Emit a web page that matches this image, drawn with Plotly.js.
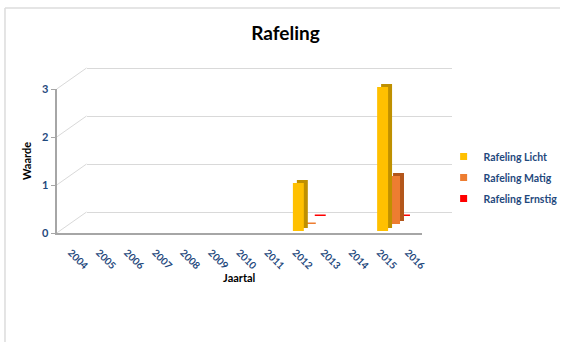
<!DOCTYPE html>
<html>
<head>
<meta charset="utf-8">
<script src="https://cdn.plot.ly/plotly-3.0.1.min.js"></script>
<style>
  html, body { margin: 0; padding: 0; background: #ffffff; }
  #chart { width: 563px; height: 342px; }
</style>
</head>
<body>
<div id="chart"></div>
<script>
// Jaartallen op de categorie-as
const years = ['2004','2005','2006','2007','2008','2009','2010','2011','2012','2013','2014','2015','2016'];

// Waarden per reeks (null = geen meting in dat jaar)
const rafelingLicht   = [null, null, null, null, null, null, null, null, 1, null, null, 3, null];
const rafelingMatig   = [null, null, null, null, null, null, null, null, 0, null, null, 1, null];
const rafelingErnstig = [null, null, null, null, null, null, null, null, 0, null, null, 0, null];

const seriesNames = ['Rafeling Licht', 'Rafeling Matig', 'Rafeling Ernstig'];
const yTicks = [0, 1, 2, 3];

// ---- geometry of the pseudo-3D box (pixels) ----
const W = 563, H = 342;
const FONT = 'Lato, "Open Sans", sans-serif';
const BLUE = '#1F497D';
const box = { left: 57, right: 424, bottom: 233, top: 89 };   // front frame
const wall = { dx: 30, dy: -21 };                              // back wall offset
const side = { dx: 4, dy: -3 };                                // column thickness
const fx = p => p / W;
const fy = p => 1 - p / H;
function domains(ox, oy, grow) {
  const g = grow || 0;
  return {
    x: [fx(box.left + ox), fx(box.right + ox)],
    y: [fy(box.bottom + oy + g), fy(box.top + oy - g)]
  };
}
const yMax = yTicks[yTicks.length - 1];
const pxPerUnit = (box.bottom - box.top) / yMax;
const yPix = v => box.bottom - v * pxPerUnit;

// series drawn back-to-front: deepest row first
const rows = [
  { name: seriesNames[2], values: rafelingErnstig, ox: 25, oy: -17, front: '#FF0000', shade: '#A30000' },
  { name: seriesNames[1], values: rafelingMatig,   ox: 15, oy: -9,  front: '#ED7D31', shade: '#B3561B' },
  { name: seriesNames[0], values: rafelingLicht,   ox: 3,  oy: -2,  front: '#FFC000', shade: '#BF9000' }
];

const layout = {
  width: W, height: H,
  margin: { l: 0, r: 0, t: 0, b: 0 },
  paper_bgcolor: '#ffffff',
  plot_bgcolor: 'rgba(0,0,0,0)',
  font: { family: FONT, color: BLUE },
  showlegend: true,
  title: {
    text: '<b>Rafeling</b>',
    font: { family: FONT, size: 19, color: '#000000' },
    x: fx(287), xanchor: 'center', xref: 'paper',
    y: fy(33), yanchor: 'middle', yref: 'paper'
  },
  legend: {
    x: fx(446), xanchor: 'left',
    y: fy(142), yanchor: 'top',
    font: { family: FONT, size: 10.5, color: BLUE, weight: 'bold' },
    bgcolor: 'rgba(0,0,0,0)',
    tracegroupgap: 2,
    traceorder: 'grouped'
  },
  shapes: [],
  hovermode: false
};

// front frame: axis lines, tick labels and titles
const d0 = domains(0, 0);
layout.xaxis = {
  domain: d0.x, anchor: 'y', type: 'linear', range: [-0.5, years.length - 0.5],
  tickvals: years.map((_, i) => i), ticktext: years, tickangle: 45,
  tickfont: { family: FONT, size: 10, color: BLUE, weight: 'bold' },
  ticklabelstandoff: 8,
  showline: true, linecolor: '#A6A6A6', linewidth: 2,
  showgrid: false, zeroline: false, ticks: '',
  title: { text: '<b>Jaartal</b>', font: { family: FONT, size: 11, color: '#000000' }, standoff: 0 },
  fixedrange: true
};
layout.yaxis = {
  domain: d0.y, anchor: 'x', range: [0, yMax], tickvals: yTicks,
  tickfont: { family: FONT, size: 11, color: BLUE, weight: 'bold' },
  showline: true, linecolor: '#A6A6A6', linewidth: 2,
  ticks: 'outside', ticklen: 4, tickcolor: '#A6A6A6', tickwidth: 1,
  showgrid: false, zeroline: false,
  title: { text: '<b>Waarde</b>', font: { family: FONT, size: 11, color: '#000000' }, standoff: 8 },
  fixedrange: true
};

// back wall with the horizontal gridlines; the wall axis is grown a few pixels
// at both ends so the gridlines at 0 and at the top are not dropped as edge lines
const growPx = 3;
const dw = domains(wall.dx, wall.dy, growPx);
const pad = growPx / pxPerUnit;
layout.xaxis2 = {
  domain: dw.x, anchor: 'y2', range: [-0.5, years.length - 0.5],
  showgrid: false, showticklabels: false, ticks: '', showline: false, zeroline: false, fixedrange: true
};
layout.yaxis2 = {
  domain: dw.y, anchor: 'x2', range: [-pad, yMax + pad], tickvals: yTicks,
  showgrid: true, gridcolor: '#D9D9D9', gridwidth: 1,
  showticklabels: false, ticks: '', showline: false, zeroline: false, fixedrange: true
};

// diagonals from the front axis to the back wall
yTicks.forEach(v => {
  layout.shapes.push({
    type: 'line', xref: 'paper', yref: 'paper', layer: 'below',
    x0: fx(box.left), y0: fy(yPix(v)),
    x1: fx(box.left + wall.dx), y1: fy(yPix(v) + wall.dy),
    line: { color: '#D9D9D9', width: 1 }
  });
});

// chart border
layout.shapes.push(
  { type: 'line', xref: 'paper', yref: 'paper', x0: fx(5), y0: fy(8), x1: fx(5), y1: 0, line: { color: '#DCDCDC', width: 1.5 } },
  { type: 'line', xref: 'paper', yref: 'paper', x0: fx(5), y0: fy(8), x1: 1, y1: fy(8), line: { color: '#DCDCDC', width: 1.5 } }
);

const data = [];
let axisNo = 3;
function addAxes(ox, oy) {
  const d = domains(ox, oy);
  const n = axisNo++;
  layout['xaxis' + n] = {
    domain: d.x, anchor: 'y' + n, type: 'category', categoryarray: years,
    range: [-0.5, years.length - 0.5], visible: false, fixedrange: true
  };
  layout['yaxis' + n] = { domain: d.y, anchor: 'x' + n, range: [0, yMax], visible: false, fixedrange: true };
  return n;
}

rows.forEach(r => {
  // side/top face of each column
  const nb = addAxes(r.ox + side.dx, r.oy + side.dy);
  data.push({
    type: 'bar', x: years, y: r.values, xaxis: 'x' + nb, yaxis: 'y' + nb,
    width: 0.39, marker: { color: r.shade, line: { width: 0 } },
    showlegend: false, hoverinfo: 'skip'
  });
  // front face; zero values show as a thin slab
  const nf = addAxes(r.ox, r.oy);
  data.push({
    type: 'bar', x: years, y: r.values, xaxis: 'x' + nf, yaxis: 'y' + nf,
    width: 0.39,
    marker: { color: r.front, line: { color: r.front, width: r.values.map(v => v === 0 ? 3 : 0) } },
    showlegend: false, hoverinfo: 'skip'
  });
});

// legend entries (front frame for the first, back wall for the others so both subplots exist)
[rows[2], rows[1], rows[0]].forEach((r, i) => {
  data.push({
    type: 'scatter', mode: 'markers', x: [null], y: [null],
    xaxis: i === 0 ? 'x' : 'x2', yaxis: i === 0 ? 'y' : 'y2',
    name: r.name, legendgroup: 'g' + i,
    marker: { symbol: 'square', size: 7, color: r.front }
  });
});

Plotly.newPlot('chart', data, layout, { displayModeBar: false, staticPlot: true });
</script>
</body>
</html>
